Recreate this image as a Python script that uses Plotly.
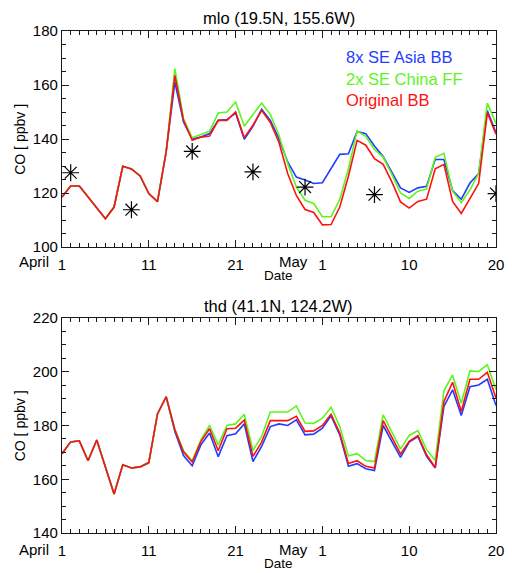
import plotly.graph_objects as go

# Day index from April 1 (0) to day 50
days = list(range(51))
tick_days = [0, 10, 20, 30, 40, 50]
tick_labels = ["1", "11", "21", "1", "10", "20"]

# --- mlo (19.5N, 155.6W): CO in ppbv ---
mlo_common = [118.5, 122.6, 122.6, 118.6, 114.5, 110.5, 114.8, 129.9, 128.9,
              126.3, 119.8, 116.8, 135.2]
mlo_orig_bb = [163.6, 146.9, 139.5, 140.7, 141.1, 146.9, 146.9, 150.0, 140.5,
               145.1, 150.6, 146.1, 138.7, 127.2, 119.1, 113.9, 112.8, 108.2,
               108.3, 114.8, 126.2, 139.5, 137.7, 132.7, 130.6, 124.1, 116.7,
               114.4, 116.9, 117.7, 129.0, 130.6, 116.9, 112.4, 117.7, 123.5,
               149.8, 141.8]
mlo_china_ff = [166.1, 147.5, 140.5, 141.7, 142.9, 149.6, 150.0, 153.7, 144.7,
                149.1, 153.3, 149.1, 141.4, 130.9, 122.2, 117.3, 116.1, 111.2,
                111.2, 117.6, 129.0, 143.0, 141.0, 136.1, 133.3, 126.9, 120.0,
                118.0, 120.7, 121.5, 133.2, 134.7, 120.7, 116.4, 121.2, 127.2,
                153.3, 145.7]
mlo_asia_bb = [161.1, 146.3, 140.0, 140.7, 142.0, 146.9, 147.2, 149.6, 139.9,
               144.7, 151.0, 146.9, 140.1, 131.5, 125.9, 124.8, 123.5, 123.8,
               129.0, 134.3, 134.5, 142.8, 142.0, 137.4, 133.5, 127.5, 121.9,
               120.2, 121.9, 122.5, 132.4, 132.4, 120.9, 117.7, 123.7, 127.2,
               150.5, 142.3]
mlo_obs_days = [1, 8, 15, 22, 28, 36, 50]
mlo_obs = [127.5, 113.8, 135.4, 127.8, 122.2, 119.4, 119.8]

# --- thd (41.1N, 124.2W): CO in ppbv ---
thd_common = [169.5, 173.9, 174.3, 166.9, 174.6, 164.2, 154.5, 165.4, 164.2,
              164.6, 166.2, 184.3, 190.7]
thd_orig_bb = [178.4, 170.1, 166.4, 174.0, 178.8, 170.6, 178.8, 179.0, 182.0,
               168.5, 173.8, 181.8, 181.8, 181.8, 183.4, 177.8, 178.0, 180.0,
               184.2, 177.2, 165.9, 166.9, 164.8, 164.2, 181.8, 175.3, 169.4,
               174.1, 176.2, 169.1, 164.4, 188.9, 196.1, 185.2, 197.2, 197.2,
               199.8, 190.2]
thd_china_ff = [178.7, 170.6, 166.9, 174.7, 180.0, 172.8, 180.0, 180.6, 184.2,
                170.7, 175.9, 185.0, 185.0, 185.0, 187.3, 180.9, 180.8, 182.7,
                186.8, 179.6, 168.7, 169.5, 167.0, 166.6, 184.0, 177.8, 171.2,
                176.3, 178.1, 171.0, 167.0, 192.9, 198.8, 188.3, 200.3, 200.1,
                202.6, 193.3]
thd_asia_bb = [177.8, 168.8, 165.0, 172.8, 177.2, 168.4, 176.2, 176.9, 180.6,
               166.6, 172.2, 179.6, 180.6, 180.0, 182.1, 176.5, 176.8, 179.0,
               183.6, 176.5, 164.8, 165.8, 163.9, 163.2, 180.0, 173.8, 168.1,
               173.8, 175.9, 168.5, 164.2, 187.1, 193.3, 183.7, 194.4, 195.1,
               197.2, 187.4]

series_names = ["8x SE Asia BB", "2x SE China FF", "Original BB"]
BLUE = "#1f3cff"
GREEN = "#5cf51e"
RED = "#ff1010"
colors = [BLUE, GREEN, RED]

FONT = "Liberation Sans, Arial, Helvetica, sans-serif"
AXC = "#1a1a1a"

fig = go.Figure()

panels = [
    ("x", "y", mlo_common, [mlo_asia_bb, mlo_china_ff, mlo_orig_bb]),
    ("x2", "y2", thd_common, [thd_asia_bb, thd_china_ff, thd_orig_bb]),
]
for xa, ya, common, tails in panels:
    for name, col, tail in zip(series_names, colors, tails):
        fig.add_trace(go.Scatter(
            x=days, y=common + tail, mode="lines", name=name,
            line=dict(color=col, width=1.6), xaxis=xa, yaxis=ya,
            showlegend=False, hoverinfo="skip"))

# Observed values at mlo
fig.add_trace(go.Scatter(
    x=mlo_obs_days, y=mlo_obs, mode="markers", xaxis="x", yaxis="y",
    marker=dict(symbol="asterisk-open", size=14, color="black",
                line=dict(color="black", width=1.2)),
    showlegend=False, hoverinfo="skip"))

W, H = 513, 573
ML, MR, MT, MB = 62, 9, 31, 40
plot_h = H - MT - MB
plot_w = W - ML - MR


def fy(py):
    return (H - MB - py) / plot_h


def fx(px):
    return (px - ML) / plot_w


def xaxis_cfg(anchor):
    return dict(
        range=[0, 50], tickvals=tick_days, ticktext=tick_labels,
        ticks="inside", ticklen=7, tickwidth=1, tickcolor=AXC,
        minor=dict(dtick=1, tick0=0, ticks="inside", ticklen=3.5,
                   tickwidth=1, tickcolor=AXC),
        showline=True, linecolor=AXC, linewidth=1.2, mirror="allticks",
        showgrid=False, zeroline=False, anchor=anchor,
        tickfont=dict(family=FONT, size=15, color="black"),
        ticklabelstandoff=4, domain=[0, 1])


def yaxis_cfg(rng, dom, anchor):
    return dict(
        range=rng, dtick=20, tick0=0, domain=dom, anchor=anchor,
        ticks="inside", ticklen=7, tickwidth=1, tickcolor=AXC,
        minor=dict(dtick=5, ticks="inside", ticklen=3.5, tickwidth=1,
                   tickcolor=AXC),
        showline=True, linecolor=AXC, linewidth=1.2, mirror="allticks",
        showgrid=False, zeroline=False,
        tickfont=dict(family=FONT, size=15, color="black"))


fig.update_layout(
    width=W, height=H, autosize=False,
    margin=dict(l=ML, r=MR, t=MT, b=MB, pad=0),
    paper_bgcolor="white", plot_bgcolor="white",
    xaxis=xaxis_cfg("y"),
    yaxis=yaxis_cfg([100, 180], [fy(247), 1.0], "x"),
    xaxis2=xaxis_cfg("y2"),
    yaxis2=yaxis_cfg([140, 220], [0.0, fy(318)], "x2"),
)

ann = []
# Panel titles
ann.append(dict(text="mlo (19.5N, 155.6W)", x=fx(282.5), y=fy(17.5)))
ann.append(dict(text="thd (41.1N, 124.2W)", x=fx(282.5), y=fy(306)))
for a in ann:
    a.update(xref="paper", yref="paper", showarrow=False, xanchor="center",
             yanchor="middle", font=dict(family=FONT, size=16.5, color="black"))

# Month and axis labels under each panel
for base in (261, 549):
    ann.append(dict(text="April", x=fx(33), y=fy(base), xref="paper",
                    yref="paper", showarrow=False, xanchor="center",
                    yanchor="middle",
                    font=dict(family=FONT, size=15, color="black")))
    ann.append(dict(text="May", x=fx(297.5), y=fy(base), xref="paper",
                    yref="paper", showarrow=False, xanchor="center",
                    yanchor="middle",
                    font=dict(family=FONT, size=15, color="black")))
    ann.append(dict(text="Date", x=fx(282.5), y=fy(base + 14), xref="paper",
                    yref="paper", showarrow=False, xanchor="center",
                    yanchor="middle",
                    font=dict(family=FONT, size=13.5, color="black")))

# Y axis titles
for cy in ((31 + 247) / 2, (318 + 533) / 2):
    ann.append(dict(text="CO [ ppbv ]", x=fx(19), y=fy(cy), xref="paper",
                    yref="paper", showarrow=False, textangle=-90,
                    xanchor="center", yanchor="middle",
                    font=dict(family=FONT, size=14, color="black")))

# Series key written in the series colours
for name, col, cy in zip(series_names, colors, (57, 78.5, 99.5)):
    ann.append(dict(text=name, x=fx(349), y=fy(cy), xref="paper",
                    yref="paper", showarrow=False, xanchor="left",
                    yanchor="middle",
                    font=dict(family=FONT, size=16.5, color=col)))

fig.update_layout(annotations=ann)

fig.write_html("out.html")
